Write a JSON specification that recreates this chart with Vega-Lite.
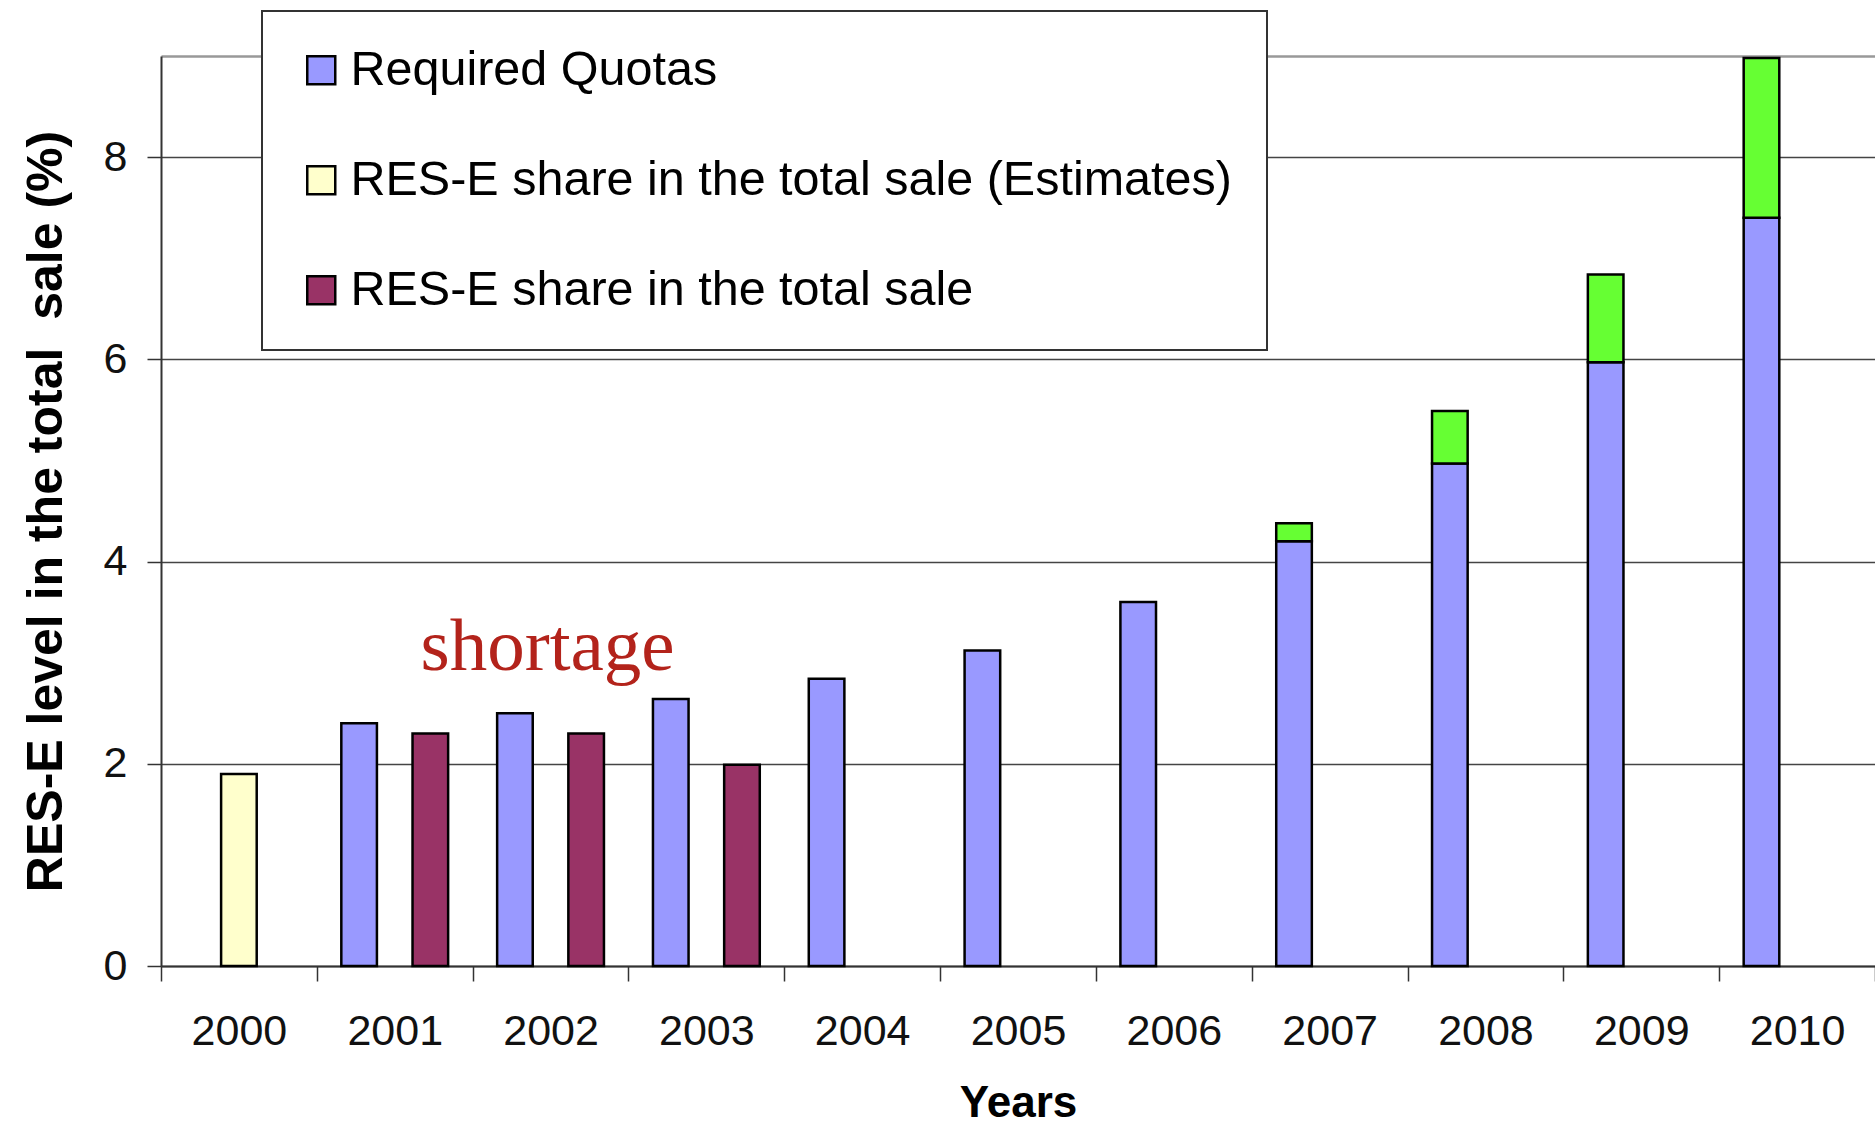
{
  "$schema": "https://vega.github.io/schema/vega-lite/v6.json",
  "width": 1714,
  "height": 910,
  "autosize": {"type": "none"},
  "padding": {"left": 161, "top": 56, "right": 0, "bottom": 162},
  "background": "white",
  "config": {
    "view": {"stroke": null},
    "font": "Liberation Sans"
  },
  "layer": [
    {
      "data": {
        "values": [
          {"year": "2000", "group": "Estimate", "series": "RES-E share in the total sale (Estimates)", "value": 1.9},
          {"year": "2001", "group": "Quota", "series": "Required Quotas", "value": 2.4},
          {"year": "2001", "group": "Actual", "series": "RES-E share in the total sale", "value": 2.3},
          {"year": "2002", "group": "Quota", "series": "Required Quotas", "value": 2.5},
          {"year": "2002", "group": "Actual", "series": "RES-E share in the total sale", "value": 2.3},
          {"year": "2003", "group": "Quota", "series": "Required Quotas", "value": 2.64},
          {"year": "2003", "group": "Actual", "series": "RES-E share in the total sale", "value": 1.99},
          {"year": "2004", "group": "Quota", "series": "Required Quotas", "value": 2.84},
          {"year": "2005", "group": "Quota", "series": "Required Quotas", "value": 3.12},
          {"year": "2006", "group": "Quota", "series": "Required Quotas", "value": 3.6},
          {"year": "2007", "group": "Quota", "series": "Required Quotas", "value": 4.2},
          {"year": "2007", "group": "Quota", "series": "Surplus", "value": 0.18},
          {"year": "2008", "group": "Quota", "series": "Required Quotas", "value": 4.97},
          {"year": "2008", "group": "Quota", "series": "Surplus", "value": 0.52},
          {"year": "2009", "group": "Quota", "series": "Required Quotas", "value": 5.97},
          {"year": "2009", "group": "Quota", "series": "Surplus", "value": 0.87},
          {"year": "2010", "group": "Quota", "series": "Required Quotas", "value": 7.4},
          {"year": "2010", "group": "Quota", "series": "Surplus", "value": 1.58}
        ]
      },
      "mark": {"type": "bar", "stroke": "#000", "strokeWidth": 2.5},
      "encoding": {
        "x": {
          "field": "year",
          "type": "nominal",
          "scale": {"paddingInner": 0, "paddingOuter": 0},
          "axis": {
            "title": "Years",
            "labelAngle": 0,
            "tickBand": "extent",
            "tickSize": 15,
            "tickColor": "#333",
            "tickWidth": 1.5,
            "domainColor": "#333",
            "domainWidth": 2,
            "labelFontSize": 43,
            "labelColor": "#111",
            "labelPadding": 29,
            "titleFontSize": 44,
            "titleFontWeight": "bold",
            "titleColor": "#000",
            "titlePadding": 28,
            "grid": false
          }
        },
        "xOffset": {
          "field": "group",
          "type": "nominal",
          "scale": {"domain": ["Quota", "Estimate", "Actual"], "paddingInner": 0, "paddingOuter": 0.688}
        },
        "y": {
          "field": "value",
          "type": "quantitative",
          "stack": "zero",
          "scale": {"domain": [0, 9], "nice": false},
          "axis": {
            "title": "RES-E level in the total\u00a0 sale (%)",
            "values": [0, 2, 4, 6, 8, 9],
            "format": "d",
            "labelExpr": "datum.value == 9 ? '' : datum.label",
            "domainColor": "#333",
            "domainWidth": 2,
            "tickSize": 14,
            "tickColor": "#333",
            "tickWidth": 1.5,
            "tickOpacity": {"condition": {"test": "datum.value == 9", "value": 0}, "value": 1},
            "grid": true,
            "gridColor": {"condition": {"test": "datum.value == 9", "value": "#999"}, "value": "#444"},
            "gridWidth": {"condition": {"test": "datum.value == 9", "value": 2.5}, "value": 1.5},
            "labelFontSize": 43,
            "labelColor": "#111",
            "labelPadding": 20,
            "titleFontSize": 50,
            "titleFontWeight": "bold",
            "titleColor": "#000",
            "titlePadding": 32
          }
        },
        "color": {
          "field": "series",
          "type": "nominal",
          "scale": {
            "domain": ["Required Quotas", "RES-E share in the total sale (Estimates)", "RES-E share in the total sale", "Surplus"],
            "range": ["#9999FF", "#FFFFCC", "#993366", "#66FF33"]
          },
          "legend": {
            "values": ["Required Quotas", "RES-E share in the total sale (Estimates)", "RES-E share in the total sale"],
            "title": null,
            "orient": "none",
            "legendX": 101,
            "legendY": -45,
            "direction": "vertical",
            "columns": 1,
            "padding": 35,
            "fillColor": "white",
            "strokeColor": "#333",
            "cornerRadius": 0,
            "symbolType": "square",
            "symbolSize": 784,
            "symbolStrokeColor": "#000",
            "symbolStrokeWidth": 2.5,
            "symbolOpacity": 1,
            "symbolOffset": 0,
            "labelFontSize": 48.5,
            "labelColor": "#000",
            "labelOffset": 5,
            "labelLimit": 2000,
            "rowPadding": 61,
            "encode": {
              "legend": {"update": {"strokeWidth": {"value": 2}}}
            }
          }
        },
        "order": {"field": "series", "sort": "ascending"}
      }
    },
    {
      "data": {
        "values": [
          {"year": "2002", "value": 2.93, "note": "shortage"}
        ]
      },
      "mark": {
        "type": "text",
        "font": "Liberation Serif",
        "fontSize": 75,
        "color": "#B3231B",
        "align": "center",
        "baseline": "alphabetic",
        "dx": -3
      },
      "encoding": {
        "x": {"field": "year", "type": "nominal"},
        "y": {"field": "value", "type": "quantitative"},
        "text": {"field": "note"}
      }
    }
  ]
}
